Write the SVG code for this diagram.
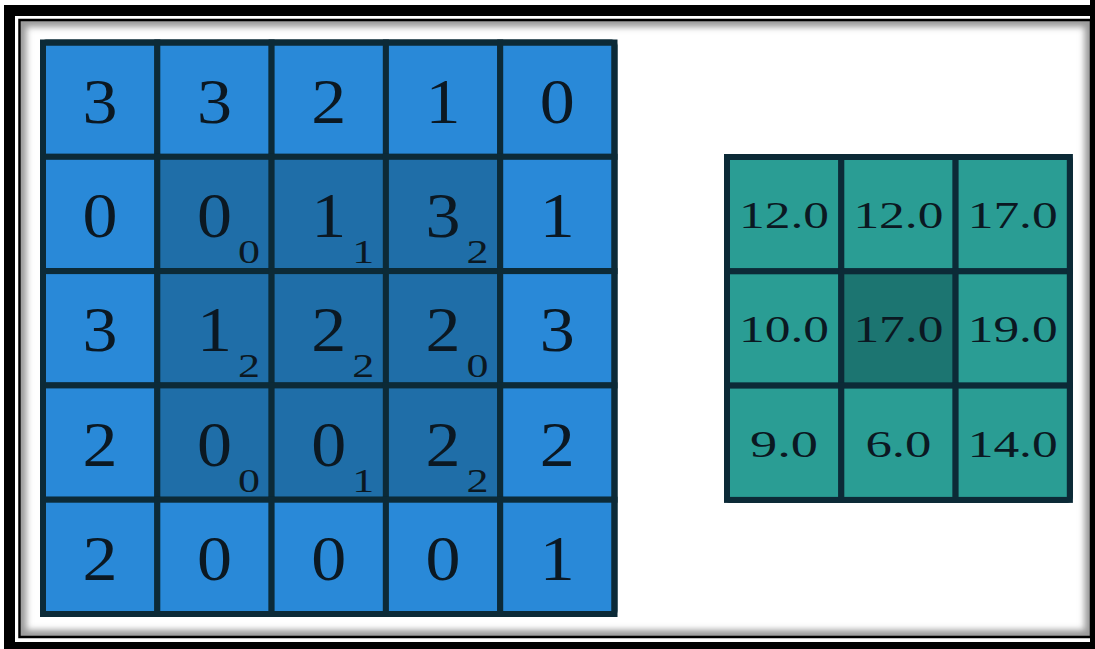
<svg xmlns="http://www.w3.org/2000/svg" width="1095" height="649" viewBox="0 0 1095 649">
<style>
.c{fill:#2989d8;stroke:#0c2a37;stroke-width:6}
.d{fill:#1f6ea8;stroke:#0c2a37;stroke-width:6}
.t{fill:#2a9d94;stroke:#0c2a37;stroke-width:6}
.td{fill:#1c7571;stroke:#0c2a37;stroke-width:6}
.m{font-family:"Liberation Serif",serif;font-size:64px;fill:#0b1822;text-anchor:middle}
.s{font-family:"Liberation Serif",serif;font-size:34px;fill:#0b1822;text-anchor:middle}
.r{font-family:"Liberation Serif",serif;font-size:38px;fill:#0b1822;text-anchor:middle}
.b{fill:none;stroke:#0c2a37;stroke-width:6}
</style>
<defs>
<clipPath id="inner"><rect x="20.5" y="21" width="1070" height="615"/></clipPath>
<filter id="blur" x="-5%" y="-5%" width="110%" height="110%"><feGaussianBlur stdDeviation="3"/></filter>
</defs>
<rect width="1095" height="649" fill="#ffffff"/>
<g id="frame">
<g clip-path="url(#inner)"><rect x="20.5" y="21" width="1070" height="615" fill="none" stroke="#9a9a9a" stroke-width="12" filter="url(#blur)"/></g>
<rect x="9.5" y="10.5" width="1091" height="637" fill="none" stroke="#000" stroke-width="11"/>
<rect x="19.5" y="20" width="1071.5" height="617" fill="none" stroke="#000" stroke-width="2.5"/>
<rect x="1090" y="0" width="5" height="649" fill="#000"/>
</g>
<g id="input-grid">
<g id="a00"><rect class="c" x="43" y="42.5" width="114.3" height="114.3"/><text class="m" x="100.1" y="122.7" textLength="35" lengthAdjust="spacingAndGlyphs">3</text></g>
<g id="a01"><rect class="c" x="157.3" y="42.5" width="114.3" height="114.3"/><text class="m" x="214.4" y="122.7" textLength="35" lengthAdjust="spacingAndGlyphs">3</text></g>
<g id="a02"><rect class="c" x="271.6" y="42.5" width="114.3" height="114.3"/><text class="m" x="328.7" y="122.7" textLength="35" lengthAdjust="spacingAndGlyphs">2</text></g>
<g id="a03"><rect class="c" x="385.9" y="42.5" width="114.3" height="114.3"/><text class="m" x="443" y="122.7" textLength="35" lengthAdjust="spacingAndGlyphs">1</text></g>
<g id="a04"><rect class="c" x="500.2" y="42.5" width="114.3" height="114.3"/><text class="m" x="557.3" y="122.7" textLength="35" lengthAdjust="spacingAndGlyphs">0</text></g>

<g id="a10"><rect class="c" x="43" y="156.8" width="114.3" height="114.3"/><text class="m" x="100.1" y="237" textLength="35" lengthAdjust="spacingAndGlyphs">0</text></g>
<g id="a11"><rect class="d" x="157.3" y="156.8" width="114.3" height="114.3"/><text class="m" x="214.4" y="237" textLength="35" lengthAdjust="spacingAndGlyphs">0</text><text class="s" x="249" y="263" textLength="22" lengthAdjust="spacingAndGlyphs">0</text></g>
<g id="a12"><rect class="d" x="271.6" y="156.8" width="114.3" height="114.3"/><text class="m" x="328.7" y="237" textLength="35" lengthAdjust="spacingAndGlyphs">1</text><text class="s" x="363.3" y="263" textLength="22" lengthAdjust="spacingAndGlyphs">1</text></g>
<g id="a13"><rect class="d" x="385.9" y="156.8" width="114.3" height="114.3"/><text class="m" x="443" y="237" textLength="35" lengthAdjust="spacingAndGlyphs">3</text><text class="s" x="477.6" y="263" textLength="22" lengthAdjust="spacingAndGlyphs">2</text></g>
<g id="a14"><rect class="c" x="500.2" y="156.8" width="114.3" height="114.3"/><text class="m" x="557.3" y="237" textLength="35" lengthAdjust="spacingAndGlyphs">1</text></g>

<g id="a20"><rect class="c" x="43" y="271.1" width="114.3" height="114.3"/><text class="m" x="100.1" y="351.3" textLength="35" lengthAdjust="spacingAndGlyphs">3</text></g>
<g id="a21"><rect class="d" x="157.3" y="271.1" width="114.3" height="114.3"/><text class="m" x="214.4" y="351.3" textLength="35" lengthAdjust="spacingAndGlyphs">1</text><text class="s" x="249" y="377.3" textLength="22" lengthAdjust="spacingAndGlyphs">2</text></g>
<g id="a22"><rect class="d" x="271.6" y="271.1" width="114.3" height="114.3"/><text class="m" x="328.7" y="351.3" textLength="35" lengthAdjust="spacingAndGlyphs">2</text><text class="s" x="363.3" y="377.3" textLength="22" lengthAdjust="spacingAndGlyphs">2</text></g>
<g id="a23"><rect class="d" x="385.9" y="271.1" width="114.3" height="114.3"/><text class="m" x="443" y="351.3" textLength="35" lengthAdjust="spacingAndGlyphs">2</text><text class="s" x="477.6" y="377.3" textLength="22" lengthAdjust="spacingAndGlyphs">0</text></g>
<g id="a24"><rect class="c" x="500.2" y="271.1" width="114.3" height="114.3"/><text class="m" x="557.3" y="351.3" textLength="35" lengthAdjust="spacingAndGlyphs">3</text></g>

<g id="a30"><rect class="c" x="43" y="385.4" width="114.3" height="114.3"/><text class="m" x="100.1" y="465.6" textLength="35" lengthAdjust="spacingAndGlyphs">2</text></g>
<g id="a31"><rect class="d" x="157.3" y="385.4" width="114.3" height="114.3"/><text class="m" x="214.4" y="465.6" textLength="35" lengthAdjust="spacingAndGlyphs">0</text><text class="s" x="249" y="491.6" textLength="22" lengthAdjust="spacingAndGlyphs">0</text></g>
<g id="a32"><rect class="d" x="271.6" y="385.4" width="114.3" height="114.3"/><text class="m" x="328.7" y="465.6" textLength="35" lengthAdjust="spacingAndGlyphs">0</text><text class="s" x="363.3" y="491.6" textLength="22" lengthAdjust="spacingAndGlyphs">1</text></g>
<g id="a33"><rect class="d" x="385.9" y="385.4" width="114.3" height="114.3"/><text class="m" x="443" y="465.6" textLength="35" lengthAdjust="spacingAndGlyphs">2</text><text class="s" x="477.6" y="491.6" textLength="22" lengthAdjust="spacingAndGlyphs">2</text></g>
<g id="a34"><rect class="c" x="500.2" y="385.4" width="114.3" height="114.3"/><text class="m" x="557.3" y="465.6" textLength="35" lengthAdjust="spacingAndGlyphs">2</text></g>

<g id="a40"><rect class="c" x="43" y="499.7" width="114.3" height="114.3"/><text class="m" x="100.1" y="579.9" textLength="35" lengthAdjust="spacingAndGlyphs">2</text></g>
<g id="a41"><rect class="c" x="157.3" y="499.7" width="114.3" height="114.3"/><text class="m" x="214.4" y="579.9" textLength="35" lengthAdjust="spacingAndGlyphs">0</text></g>
<g id="a42"><rect class="c" x="271.6" y="499.7" width="114.3" height="114.3"/><text class="m" x="328.7" y="579.9" textLength="35" lengthAdjust="spacingAndGlyphs">0</text></g>
<g id="a43"><rect class="c" x="385.9" y="499.7" width="114.3" height="114.3"/><text class="m" x="443" y="579.9" textLength="35" lengthAdjust="spacingAndGlyphs">0</text></g>
<g id="a44"><rect class="c" x="500.2" y="499.7" width="114.3" height="114.3"/><text class="m" x="557.3" y="579.9" textLength="35" lengthAdjust="spacingAndGlyphs">1</text></g>
<rect class="b" x="43" y="42.5" width="571.5" height="571.5" rx="3"/>
</g>
<g id="output-grid">
<g id="b00"><rect class="t" x="727" y="157" width="114.3" height="114.3"/><text class="r" x="784" y="228" textLength="90" lengthAdjust="spacingAndGlyphs">12.0</text></g>
<g id="b01"><rect class="t" x="841.3" y="157" width="114.3" height="114.3"/><text class="r" x="898.4" y="228" textLength="90" lengthAdjust="spacingAndGlyphs">12.0</text></g>
<g id="b02"><rect class="t" x="955.6" y="157" width="114.3" height="114.3"/><text class="r" x="1012.7" y="228" textLength="90" lengthAdjust="spacingAndGlyphs">17.0</text></g>
<g id="b10"><rect class="t" x="727" y="271.3" width="114.3" height="114.3"/><text class="r" x="784" y="342.3" textLength="90" lengthAdjust="spacingAndGlyphs">10.0</text></g>
<g id="b11"><rect class="td" x="841.3" y="271.3" width="114.3" height="114.3"/><text class="r" x="898.4" y="342.3" textLength="90" lengthAdjust="spacingAndGlyphs">17.0</text></g>
<g id="b12"><rect class="t" x="955.6" y="271.3" width="114.3" height="114.3"/><text class="r" x="1012.7" y="342.3" textLength="90" lengthAdjust="spacingAndGlyphs">19.0</text></g>
<g id="b20"><rect class="t" x="727" y="385.6" width="114.3" height="114.3"/><text class="r" x="784" y="456.6" textLength="68" lengthAdjust="spacingAndGlyphs">9.0</text></g>
<g id="b21"><rect class="t" x="841.3" y="385.6" width="114.3" height="114.3"/><text class="r" x="898.4" y="456.6" textLength="66" lengthAdjust="spacingAndGlyphs">6.0</text></g>
<g id="b22"><rect class="t" x="955.6" y="385.6" width="114.3" height="114.3"/><text class="r" x="1012.7" y="456.6" textLength="90" lengthAdjust="spacingAndGlyphs">14.0</text></g>
<rect class="b" x="727" y="157" width="342.9" height="342.9" rx="3"/>
</g>
<g id="connectors"></g>
</svg>
